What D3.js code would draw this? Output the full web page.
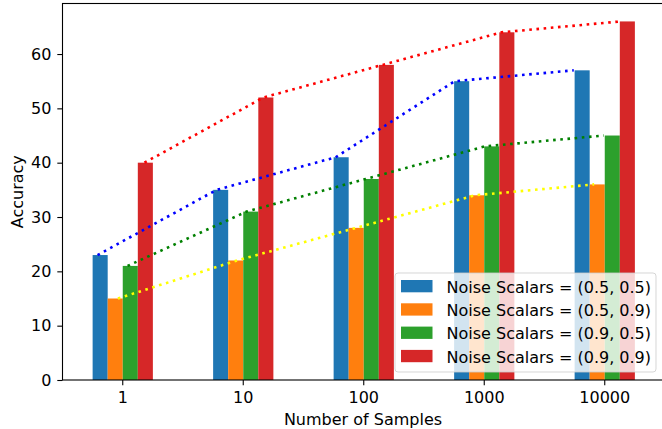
<!DOCTYPE html>
<html>
<head>
<meta charset="utf-8">
<script src="https://cdn.jsdelivr.net/npm/d3@7"></script>
<style>
  body { margin: 0; background: #fff; }
  text { font-family: "DejaVu Sans", sans-serif; fill: #000; }
</style>
</head>
<body>
<div id="chart"></div>
<script>
// data
var samples = ["1", "10", "100", "1000", "10000"];
var seriesNames = ["Noise Scalars = (0.5, 0.5)", "Noise Scalars = (0.5, 0.9)",
                   "Noise Scalars = (0.9, 0.5)", "Noise Scalars = (0.9, 0.9)"];
var acc_05_05 = [23, 35, 41, 55, 57];
var acc_05_09 = [15, 22, 28, 34, 36];
var acc_09_05 = [21, 31, 37, 43, 45];
var acc_09_09 = [40, 52, 58, 64, 66];
var yTicks = [0, 10, 20, 30, 40, 50, 60];

var barColors = ["#1f77b4", "#ff7f0e", "#2ca02c", "#d62728"];
var lineColors = ["blue", "yellow", "green", "red"];
// where each dotted line sits inside a group (band units)
var lineOffsets = [-0.209, -0.04, 0.04, 0.18];
var lineStep = 0.988;

var allSeries = [acc_05_05, acc_05_09, acc_09_05, acc_09_09];

var W = 662, H = 429;
var margin = {top: 3.5, left: 62.5, bottom: 49, right: -3};
var fs = "16px";

var svg = d3.select("#chart")
  .append("svg")
    .attr("width", W)
    .attr("height", H);

var x = d3.scaleBand()
  .domain(samples)
  .range([margin.left, W - margin.right])
  .paddingInner(0).paddingOuter(0);

var y = d3.scaleLinear()
  .domain([0, 69.3])
  .range([H - margin.bottom, margin.top]);

var bw = x.bandwidth() * 0.125;
var center = function(i) { return x(samples[i]) + x.bandwidth() / 2; };

// bars
allSeries.forEach(function(vals, j) {
  svg.append("g")
    .selectAll("rect")
    .data(vals)
    .enter()
    .append("rect")
      .attr("x", function(d, i) { return center(i) + (j - 2) * bw; })
      .attr("y", function(d) { return y(d); })
      .attr("width", bw)
      .attr("height", function(d) { return y(0) - y(d); })
      .attr("fill", barColors[j]);
});

// dotted trend lines
allSeries.forEach(function(vals, j) {
  var line = d3.line()
    .x(function(d, i) { return center(0) + (i * lineStep + lineOffsets[j]) * x.bandwidth(); })
    .y(function(d) { return y(d); });
  svg.append("path")
    .datum(vals)
    .attr("d", line)
    .attr("fill", "none")
    .attr("stroke", lineColors[j])
    .attr("stroke-width", 2.6)
    .attr("stroke-dasharray", "2.6,4.6");
});

// axes
var xAxis = svg.append("g")
  .attr("transform", "translate(0," + y(0) + ")")
  .call(d3.axisBottom(x).tickSize(5.2).tickPadding(6));
var yAxis = svg.append("g")
  .attr("transform", "translate(" + margin.left + ",0)")
  .call(d3.axisLeft(y).tickValues(yTicks).tickSize(5.2).tickPadding(6));

[xAxis, yAxis].forEach(function(g) {
  g.select(".domain").remove();
  g.selectAll(".tick line").attr("stroke", "#000").attr("stroke-width", 1.1);
  g.selectAll(".tick text")
    .attr("font-size", fs)
    .attr("font-family", "DejaVu Sans")
    .attr("fill", "#000");
});

// frame
svg.append("rect")
  .attr("x", margin.left)
  .attr("y", margin.top)
  .attr("width", W - margin.right - margin.left)
  .attr("height", y(0) - margin.top)
  .attr("fill", "none")
  .attr("stroke", "#000")
  .attr("stroke-width", 1.1);

// axis labels
svg.append("text")
  .attr("x", 363)
  .attr("y", 425)
  .attr("text-anchor", "middle")
  .attr("font-size", fs)
  .text("Number of Samples");

svg.append("text")
  .attr("transform", "translate(22.7," + (margin.top + y(0)) / 2 + ") rotate(-90)")
  .attr("text-anchor", "middle")
  .attr("font-size", fs)
  .text("Accuracy");

// legend
var legend = svg.append("g").attr("transform", "translate(395,273)");
legend.append("rect")
  .attr("width", 261)
  .attr("height", 99)
  .attr("rx", 3)
  .attr("fill", "#fff")
  .attr("fill-opacity", 0.8)
  .attr("stroke", "#ccc")
  .attr("stroke-opacity", 0.8);

var items = legend.selectAll(".item")
  .data(seriesNames)
  .enter()
  .append("g")
    .attr("transform", function(d, i) { return "translate(0," + (7 + i * 23.3) + ")"; });
items.append("rect")
  .attr("x", 6)
  .attr("width", 31.5)
  .attr("height", 12.3)
  .attr("fill", function(d, i) { return barColors[i]; });
items.append("text")
  .attr("x", 51.5)
  .attr("y", 12.7)
  .attr("font-size", fs)
  .text(function(d) { return d; });
</script>
</body>
</html>
